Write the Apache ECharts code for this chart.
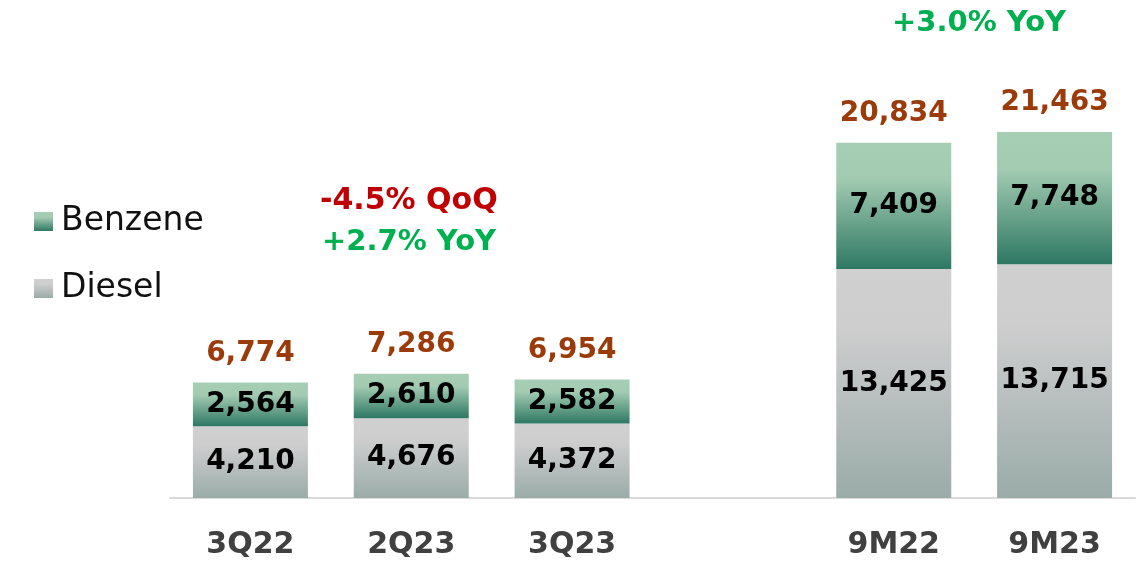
<!DOCTYPE html>
<html>
<head>
<meta charset="utf-8">
<script src="https://cdn.jsdelivr.net/npm/echarts@6/dist/echarts.min.js"></script>
<style>
  html, body { margin: 0; padding: 0; background: #fff; }
  #chart { width: 1146px; height: 562px; }
</style>
</head>
<body>
<div id="chart"></div>
<script>
// categories (one empty slot makes the gap between quarters and 9M)
var categories = ['3Q22', '2Q23', '3Q23', '', '9M22', '9M23'];
var diesel = [4210, 4676, 4372, '-', 13425, 13715];
var benzene = [2564, 2610, 2582, '-', 7409, 7748];
var totals = [6774, 7286, 6954, '-', 20834, 21463];

var FONT = 'DejaVu Sans';

function fmt(v) {
    return Number(v).toLocaleString('en-US');
}

var myChart = echarts.init(document.getElementById('chart'));

var option = {
    animation: false,
    grid: {
        left: 170,
        right: 11,
        top: 10,
        bottom: 64
    },
    legend: {
        data: ['Benzene', 'Diesel'],
        orient: 'vertical',
        left: 29,
        top: 200,
        icon: 'rect',
        itemWidth: 19,
        itemHeight: 19,
        itemGap: 34,
        textStyle: {
            fontFamily: FONT,
            fontSize: 33,
            color: '#111',
            padding: [0, 0, 0, 3]
        }
    },
    xAxis: {
        type: 'category',
        data: categories,
        axisLine: { lineStyle: { color: '#d9d9d9', width: 2 } },
        axisTick: { show: false },
        axisLabel: {
            margin: 32,
            fontFamily: FONT,
            fontWeight: 'bold',
            fontSize: 30,
            color: '#404040'
        }
    },
    yAxis: {
        type: 'value',
        min: 0,
        max: 28620,
        show: false,
        splitLine: { show: false }
    },
    series: [
        {
            name: 'Diesel',
            type: 'bar',
            stack: 'total',
            barWidth: 115,
            data: diesel,
            itemStyle: {
                color: new echarts.graphic.LinearGradient(0, 0, 0, 1, [
                    { offset: 0, color: '#d1d0d1' },
                    { offset: 0.25, color: '#cfcecf' },
                    { offset: 1, color: '#9aaca8' }
                ])
            },
            label: {
                show: true,
                position: 'inside',
                formatter: function (p) { return fmt(p.value); },
                fontFamily: FONT,
                fontWeight: 'bold',
                fontSize: 28,
                color: '#000'
            }
        },
        {
            name: 'Benzene',
            type: 'bar',
            stack: 'total',
            barWidth: 115,
            data: benzene,
            itemStyle: {
                color: new echarts.graphic.LinearGradient(0, 0, 0, 1, [
                    { offset: 0, color: '#a6ceb5' },
                    { offset: 0.28, color: '#a3cbb2' },
                    { offset: 1, color: '#2e7863' }
                ])
            },
            label: {
                show: true,
                position: 'inside',
                formatter: function (p) { return fmt(p.value); },
                fontFamily: FONT,
                fontWeight: 'bold',
                fontSize: 28,
                color: '#000'
            }
        },
        {
            // empty series carrying the totals above each stack
            name: 'Total',
            type: 'bar',
            stack: 'total',
            barWidth: 115,
            data: totals.map(function (t) { return t === '-' ? '-' : 0; }),
            itemStyle: { color: 'transparent' },
            label: {
                show: true,
                position: 'top',
                distance: 15,
                formatter: function (p) { return fmt(totals[p.dataIndex]); },
                fontFamily: FONT,
                fontWeight: 'bold',
                fontSize: 28,
                color: '#9c3b0a'
            }
        }
    ],
    graphic: [
        {
            type: 'text',
            left: 320,
            top: 186,
            style: {
                text: '-4.5% QoQ',
                fontFamily: FONT,
                fontWeight: 'bold',
                fontSize: 30,
                fill: '#c00000'
            }
        },
        {
            type: 'text',
            left: 322,
            top: 228,
            style: {
                text: '+2.7% YoY',
                fontFamily: FONT,
                fontWeight: 'bold',
                fontSize: 29,
                fill: '#00b050'
            }
        },
        {
            type: 'text',
            left: 892,
            top: 9,
            style: {
                text: '+3.0% YoY',
                fontFamily: FONT,
                fontWeight: 'bold',
                fontSize: 29,
                fill: '#00b050'
            }
        }
    ]
};

myChart.setOption(option);
</script>
</body>
</html>
